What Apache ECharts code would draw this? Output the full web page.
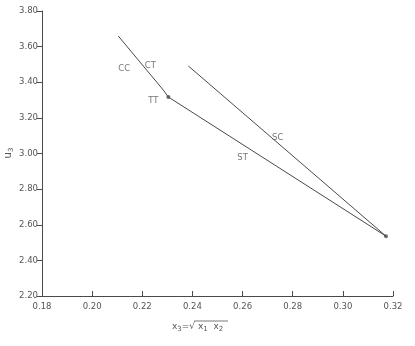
<!DOCTYPE html>
<html><head><meta charset="utf-8">
<script src="https://cdn.jsdelivr.net/npm/echarts@6/dist/echarts.min.js"></script>
<style>html,body{margin:0;padding:0;background:#fff}#c{width:415px;height:346px}</style>
</head><body><div id="c"></div>
<script>
// Path CC - CT - TT - ST - H
const pathX = [0.2104, 0.2284, 0.2304, 0.3172];
const pathY = [3.660, 3.356, 3.317, 2.536];
// Path SC - H
const scX = [0.2384, 0.3172];
const scY = [3.491, 2.536];
// Marked points (TT, H)
const markX = [0.2304, 0.3172];
const markY = [3.317, 2.536];
// Annotation labels
const labelText = ['CC', 'CT', 'TT', 'SC', 'ST', 'H'];
const labelX = [0.2128, 0.2232, 0.2244, 0.2740, 0.2600, 0.3204];
const labelY = [3.474, 3.491, 3.294, 3.087, 2.974, 2.525];
const xTicks = [0.18, 0.20, 0.22, 0.24, 0.26, 0.28, 0.30, 0.32];
const yTicks = [2.20, 2.40, 2.60, 2.80, 3.00, 3.20, 3.40, 3.60, 3.80];

const zip = (a, b) => a.map((v, i) => [v, b[i]]);
const ink = '#4a4a4a';
const txt = '#555';
const font = 'DejaVu Sans';

const chart = echarts.init(document.getElementById('c'));
chart.setOption({
  animation: false,
  backgroundColor: '#fff',
  grid: { left: 42, right: 22, top: 11, bottom: 50, containLabel: false, outerBoundsMode: 'none' },
  xAxis: {
    type: 'value', min: xTicks[0], max: xTicks[xTicks.length - 1], interval: 0.02,
    splitLine: { show: false },
    axisLine: { lineStyle: { color: ink, width: 1 } },
    axisTick: { inside: true, length: 5, lineStyle: { color: ink } },
    axisLabel: { color: txt, fontFamily: font, fontSize: 8.5, margin: 6, formatter: v => v.toFixed(2) }
  },
  yAxis: {
    type: 'value', min: yTicks[0], max: yTicks[yTicks.length - 1], interval: 0.2,
    splitLine: { show: false },
    axisLine: { lineStyle: { color: ink, width: 1 } },
    axisTick: { inside: false, length: 5, lineStyle: { color: ink } },
    axisLabel: { color: txt, fontFamily: font, fontSize: 8.5, margin: 4, formatter: v => v.toFixed(2) }
  },
  series: [
    { type: 'line', data: zip(pathX, pathY), showSymbol: false, silent: true,
      lineStyle: { color: ink, width: 1 } },
    { type: 'line', data: zip(scX, scY), showSymbol: false, silent: true,
      lineStyle: { color: ink, width: 1 } },
    { type: 'scatter', data: zip(markX, markY), symbolSize: 4, itemStyle: { color: ink } },
    { type: 'scatter', symbolSize: 0, silent: true,
      data: labelText.map((t, i) => ({ value: [labelX[i], labelY[i]], name: t })),
      label: { show: true, position: 'inside', formatter: p => p.name,
        color: txt, fontFamily: font, fontSize: 8.5 } }
  ],
  graphic: [
    { type: 'text', x: 8, y: 153, rotation: Math.PI / 2, style: {
      text: '{a|u}{s|3}', align: 'center', verticalAlign: 'middle',
      rich: {
        a: { fill: txt, fontFamily: font, fontSize: 10 },
        s: { fill: txt, fontFamily: font, fontSize: 7, padding: [6, 0, 0, 0] }
      } } },
    { type: 'text', left: 172, top: 322, style: {
      text: '{a|x}{s|3}{a|=√}{a| x}{s|1}{a|  x}{s|2}',
      rich: {
        a: { fill: txt, fontFamily: font, fontSize: 9 },
        s: { fill: txt, fontFamily: font, fontSize: 7, padding: [5, 0, 0, 0] }
      } } },
    { type: 'line', shape: { x1: 194, y1: 321, x2: 228, y2: 321 },
      style: { stroke: txt, lineWidth: 0.8 } }
  ]
});
</script></body></html>
